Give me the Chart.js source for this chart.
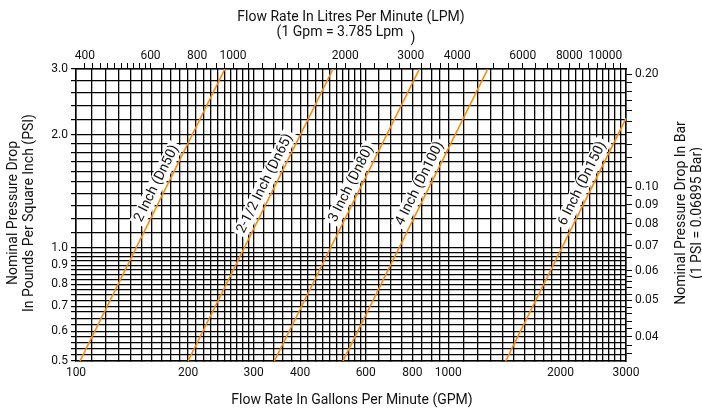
<!DOCTYPE html>
<html><head><meta charset="utf-8">
<script src="https://cdn.jsdelivr.net/npm/chart.js@4.4.1/dist/chart.umd.min.js"></script>
<style>html,body{margin:0;padding:0;background:#fff}#wrap{width:702px;height:409px}</style>
</head><body><div id="wrap"><canvas id="c" width="702" height="409"></canvas></div>
<script>
// ---- data ----
const pipeNames = ["2 Inch (Dn50)", "2-1/2 Inch (Dn65)", "3 Inch (Dn80)", "4 Inch (Dn100)", "6 Inch (Dn150)"];
const pipe2  = [{x:102.5,y:0.5},{x:251,y:3.0}];
const pipe25 = [{x:200,y:0.5},{x:490,y:3.0}];
const pipe3  = [{x:341,y:0.5},{x:836,y:3.0}];
const pipe4  = [{x:521,y:0.5},{x:1276,y:3.0}];
const pipe6  = [{x:1425,y:0.5},{x:3000,y:2.216}];
const labelAnchors = [{x:174,y:1.445},{x:340,y:1.445},{x:580,y:1.445},{x:886,y:1.445},{x:2423,y:1.445}];
const gpmLabels = [100,200,300,400,600,800,1000,2000,3000];
const lpmLabels = [400,600,800,1000,2000,3000,4000,6000,8000,10000];
const psiLabels = [3.0,2.0,1.0,0.9,0.8,0.7,0.6,0.5];
const barLabels = [0.20,0.10,0.09,0.08,0.07,0.06,0.05,0.04];
const gpmGrid = [110,120,130,140,150,160,170,180,190,200,210,220,230,240,250,260,270,280,290,300,320,340,360,380,400,420,440,460,480,500,520,540,560,580,600,650,700,750,800,850,900,950,1000,1100,1200,1300,1400,1500,1600,1700,1800,1900,2000,2100,2200,2300,2400,2500,2600,2700,2800,2900];
const lpmTicks = [400,420,440,460,480,500,520,540,560,580,600,650,700,750,800,850,900,950,1000,1100,1200,1300,1400,1500,1600,1700,1800,1900,2000,2200,2400,2600,2800,3000,3200,3400,3600,3800,4000,4500,5000,5500,6000,6500,7000,7500,8000,8500,9000,9500,10000,10500,11000];
const psiGrid = [0.52,0.54,0.56,0.58,0.6,0.625,0.65,0.675,0.7,0.725,0.75,0.775,0.8,0.825,0.85,0.875,0.9,0.925,0.95,0.975,1.0,1.1,1.2,1.3,1.4,1.5,1.6,1.7,1.8,1.9,2.0,2.2,2.4,2.6,2.8,3.0];
const barTicks = [0.036,0.038,0.04,0.042,0.044,0.046,0.048,0.05,0.052,0.054,0.056,0.058,0.06,0.065,0.07,0.075,0.08,0.085,0.09,0.095,0.10,0.11,0.12,0.13,0.14,0.15,0.16,0.17,0.18,0.19,0.20];
const GPM_TO_LPM = 3.785, PSI_TO_BAR = 0.06895;
const xMin = 100, xMax = 3000, yMin = 0.5, yMax = 3.0;

const ORANGE = '#ff8a00';
const FONT = 'Roboto, "Noto Sans", sans-serif';

function setTicks(vals){ return axis => { axis.ticks = vals.map(v => ({value:v})); }; }
function inList(list, v){ return list.some(l => Math.abs(l - v) < 1e-9 * Math.max(1, Math.abs(v))); }

const labelPlugin = {
  id: 'pipeLabels',
  afterDatasetsDraw(chart){
    const ctx = chart.ctx, xs = chart.scales.x, ys = chart.scales.y;
    ctx.save();
    ctx.font = '14px ' + FONT;
    pipeNames.forEach((name, i) => {
      const ds = chart.data.datasets[i].data;
      const ax = xs.getPixelForValue(ds[0].x), ay = ys.getPixelForValue(ds[0].y);
      const bx = xs.getPixelForValue(ds[1].x), by = ys.getPixelForValue(ds[1].y);
      const ang = Math.atan2(by - ay, bx - ax);
      const px = xs.getPixelForValue(labelAnchors[i].x), py = ys.getPixelForValue(labelAnchors[i].y);
      ctx.save();
      ctx.translate(px, py);
      ctx.rotate(ang);
      const w = ctx.measureText(name).width;
      ctx.fillStyle = '#fff';
      ctx.fillRect(-w/2 - 3, -18, w + 6, 16);
      ctx.fillStyle = '#111';
      ctx.textAlign = 'center'; ctx.textBaseline = 'middle';
      ctx.fillText(name, 0, -10);
      ctx.restore();
    });
    ctx.restore();
  },
  afterDraw(chart){
    const ctx = chart.ctx;
    ctx.save();
    ctx.fillStyle = '#111';
    ctx.font = '14px ' + FONT;
    ctx.textAlign = 'center'; ctx.textBaseline = 'middle';
    ctx.fillText('Flow Rate In Litres Per Minute (LPM)', 351, 17);
    ctx.fillText('(1 Gpm = 3.785 Lpm', 340, 32);
    ctx.fillText(')', 413, 38);
    ctx.fillText('Flow Rate In Gallons Per Minute (GPM)', 352, 400);
    ctx.save(); ctx.translate(13, 213); ctx.rotate(-Math.PI/2);
    ctx.fillText('Nominal Pressure Drop', 0, 0);
    ctx.fillText('In Pounds Per Square Inch (PSI)', 0, 16);
    ctx.restore();
    ctx.save(); ctx.translate(681, 213); ctx.rotate(-Math.PI/2);
    ctx.fillText('Nominal Pressure Drop In Bar', 0, 0);
    ctx.fillText('(1 PSI = 0.06895 Bar)', 0, 16);
    ctx.restore();
    ctx.restore();
  }
};

const tickFont = {family: FONT, size: 12};
const chart = new Chart(document.getElementById('c'), {
  type: 'scatter',
  data: {
    datasets: [pipe2, pipe25, pipe3, pipe4, pipe6].map(d => ({
      data: d, showLine: true, borderColor: ORANGE, borderWidth: 1.6, pointRadius: 0, xAxisID: 'x', yAxisID: 'y', clip: 0
    }))
  },
  options: {
    responsive: false, animation: false, devicePixelRatio: 1,
    layout: {padding: 0},
    plugins: {legend: {display: false}, tooltip: {enabled: false}},
    scales: {
      x: {
        type: 'logarithmic', position: 'bottom', min: xMin, max: xMax,
        afterBuildTicks: setTicks([100, ...gpmGrid, 3000]),
        afterFit: s => { s.height = 48; },
        border: {display: true, color: '#000', width: 1.5},
        grid: {
          drawTicks: true, tickLength: 0,
          color: '#000',
          lineWidth: 1.3
        },
        ticks: {
          autoSkip: false, maxRotation: 0, padding: 5, color: '#111', font: tickFont,
          callback: v => inList(gpmLabels, v) ? String(v) : ''
        }
      },
      x2: {
        type: 'logarithmic', position: 'top', min: xMin * GPM_TO_LPM, max: xMax * GPM_TO_LPM,
        afterBuildTicks: setTicks(lpmTicks),
        afterFit: s => { s.height = 69; },
        border: {display: true, color: '#000', width: 1.5},
        grid: {drawOnChartArea: false, drawTicks: true, tickLength: 6, color: '#000', tickColor: '#000'},
        ticks: {
          autoSkip: false, maxRotation: 0, padding: 0, color: '#111', font: tickFont,
          callback: v => inList(lpmLabels, v) ? String(v) : ''
        }
      },
      y: {
        type: 'logarithmic', position: 'left', min: yMin, max: yMax,
        afterBuildTicks: setTicks(psiGrid.concat([0.5])),
        afterFit: s => { s.width = 76; },
        border: {display: true, color: '#000', width: 1.5},
        grid: {
          drawTicks: true, tickLength: 5, tickColor: '#000',
          color: '#000',
          lineWidth: 1.2
        },
        ticks: {
          autoSkip: false, padding: 3, color: '#111', font: tickFont,
          callback: v => inList(psiLabels, v) ? v.toFixed(1) : ''
        }
      },
      y2: {
        type: 'logarithmic', position: 'right', min: yMin * PSI_TO_BAR, max: yMax * PSI_TO_BAR,
        afterBuildTicks: setTicks(barTicks),
        afterFit: s => { s.width = 76; },
        border: {display: true, color: '#000', width: 1.5},
        grid: {drawOnChartArea: false, drawTicks: true, tickLength: 6, color: '#000', tickColor: '#000'},
        ticks: {
          autoSkip: false, padding: 3, color: '#111', font: tickFont,
          callback: v => inList(barLabels, v) ? v.toFixed(2) : ''
        }
      }
    }
  },
  plugins: [labelPlugin]
});
</script>
</body></html>
